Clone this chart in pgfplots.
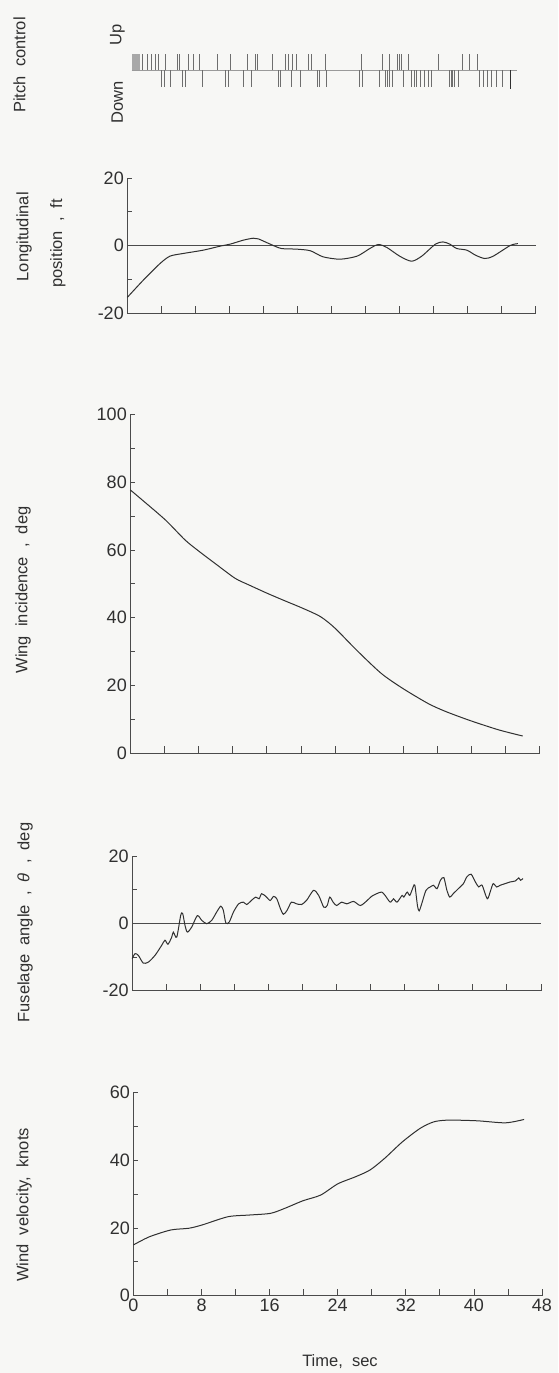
\documentclass[border=0pt]{standalone}
\usepackage{pgfplots}
\pgfplotsset{compat=1.18}
\usepackage{fontspec}
\setmainfont{Liberation Sans}[WordSpace=2]
\definecolor{bg}{RGB}{247,247,245}
\definecolor{ink}{RGB}{48,48,48}
\definecolor{axisc}{RGB}{75,75,75}
\definecolor{spike}{RGB}{110,110,110}

\pgfplotsset{
  /pgf/number format/assume math mode=true,
  trace/.style={
    scale only axis,
    axis lines=left,
    axis line style={-, axisc, line width=0.8pt},
    xmin=0, xmax=48,
    tick align=inside,
    tick style={axisc, line width=0.8pt},
    xtick={0,8,...,48}, minor xtick={4,12,...,44},
    x tick style={/pgfplots/major tick length=7pt, /pgfplots/minor tick length=7pt},
    y tick style={/pgfplots/major tick length=4.5pt, /pgfplots/minor tick length=4.5pt},
    tick label style={font=\fontsize{18}{20}\selectfont, text=ink},
    clip=false,
  },
  curve/.style={ink, line width=1pt, smooth, tension=0.45, no marks},
  zeroline/.style={axisc, line width=0.7pt, no marks},
}

\begin{document}
\begin{tikzpicture}
\fill[bg] (0pt,-1373pt) rectangle (558pt,0pt);
\useasboundingbox (0pt,-1373pt) rectangle (558pt,0pt);

% ---------- Panel 1: pitch control ----------
\begin{axis}[scale only axis, axis lines=none, xmin=0, xmax=48, ymin=-1, ymax=1,
  width=408.5pt, height=32.5pt, at={(131.7pt,-86.5pt)}, anchor=south west, clip=false]
\addplot[spike!70, line width=0.6pt, no marks] coordinates {(0,0) (45.3,0)};
\addplot[ycomb, spike!60, line width=0.9pt] coordinates {
(0.05,1) (0.18,1) (0.31,1) (0.44,1) (0.57,1) (0.7,1) (0.83,1) (0.96,1)};
\addplot[ycomb, spike, line width=0.65pt] coordinates {
(1.3,1) (1.8,1) (2.3,1) (2.8,1) (3.1,1) (3.9,1) (5.35,1) (5.65,1) (6.7,1) (7.2,1)
(8.0,1) (10.1,1) (11.6,1) (13.55,1) (14.55,1) (14.8,1) (16.5,1) (18.0,1) (18.4,1)
(18.85,1) (19.35,1) (20.7,1) (21.1,1) (22.8,1) (27.0,1) (29.45,1) (30.3,1) (31.2,1)
(31.4,1) (31.65,1) (32.5,1) (36.0,1) (38.9,1) (39.7,1) (40.6,1)};
\addplot[ycomb, spike, line width=0.65pt] coordinates {
(3.45,-1) (3.8,-1) (4.5,-1) (6.0,-1) (6.3,-1) (8.35,-1) (10.95,-1) (11.4,-1)
(13.1,-1) (14.05,-1) (17.2,-1) (17.45,-1) (18.8,-1) (19.8,-1) (21.85,-1) (22.1,-1)
(22.9,-1) (26.7,-1) (27.1,-1) (29.1,-1) (29.75,-1) (30.0,-1) (30.25,-1) (30.6,-1)
(31.95,-1) (32.9,-1) (33.2,-1) (33.5,-1) (33.9,-1) (34.35,-1) (34.8,-1) (35.25,-1)
(37.3,-1) (37.5,-1) (37.7,-1) (37.9,-1) (38.4,-1) (40.8,-1) (41.35,-1) (41.8,-1)
(42.3,-1) (42.9,-1) (43.5,-1)};
\addplot[ycomb, ink, line width=1.3pt] coordinates {(44.5,-1.15)};
\end{axis}

% ---------- Panel 2: longitudinal position ----------
\begin{axis}[trace, width=408.5pt, height=135.3pt, at={(127.3pt,-313.3pt)}, anchor=south west,
  ymin=-20, ymax=20, ytick={-20,0,20}, minor ytick={-10,10}, xticklabels={}]
\addplot[zeroline] coordinates {(0,0) (48,0)};
\addplot[curve] coordinates {
(0,-15.3) (1.88,-10.2) (3.84,-5.3) (5.02,-3.1) (6.6,-2.3) (8.93,-1.33) (10.9,-0.15)
(12.07,0.44) (13.63,1.62) (14.8,2.2) (15.4,2.0) (16.8,0.44) (18.1,-0.84) (19.9,-1.03)
(21.5,-1.5) (23.0,-3.3) (25.0,-4.0) (27.0,-3.1) (28.5,-0.84) (29.5,0.34) (30.5,-0.54)
(32.0,-3.1) (33.4,-4.6) (34.6,-3.1) (36.2,0.44) (37.1,1.1) (37.9,0.44) (38.7,-0.84)
(39.9,-1.33) (40.9,-2.8) (42.0,-3.8) (43.0,-3.1) (45.0,0.05) (45.9,0.6)};
\end{axis}

% ---------- Panel 3: wing incidence ----------
\begin{axis}[trace, width=409.5pt, height=339pt, at={(130.3pt,-753.3pt)}, anchor=south west,
  ymin=0, ymax=100, ytick={0,20,...,100}, minor ytick={10,30,...,90}, xticklabels={}]
\addplot[curve] coordinates {
(0,77.7) (1.41,74.7) (4.13,68.8) (6.43,62.9) (8.1,59.5) (10.2,55.5) (12.3,51.6)
(13.96,49.6) (16.05,47.2) (18.1,45.0) (20.2,42.8) (22.3,40.3) (24.0,36.9) (26.5,30.5)
(29.4,23.6) (31.9,19.2) (34.9,14.7) (37.0,12.3) (39.9,9.6) (43.2,6.9) (46.0,5.1)};
\end{axis}

% ---------- Panel 4: fuselage angle ----------
\begin{axis}[trace, width=408.7pt, height=134.7pt, at={(132.2pt,-990.7pt)}, anchor=south west,
  ymin=-20, ymax=20, ytick={-20,0,20}, minor ytick={-10,10}, xticklabels={}]
\addplot[zeroline] coordinates {(0,0) (48,0)};
\addplot[curve] coordinates {
(0,-10.5) (0.33,-9.0) (0.72,-9.5) (1.3,-11.8) (1.9,-11.5) (2.68,-9.5) (3.47,-6.5)
(3.85,-5.0) (4.2,-6.2) (4.64,-4.1) (4.83,-2.6) (5.23,-4.1) (5.7,2.4) (5.93,2.9)
(6.2,-0.6) (6.48,-2.6) (6.99,-1.1) (7.65,2.3) (8.17,0.9) (8.75,-0.1) (9.34,0.9)
(9.93,3.4) (10.4,5.1) (10.7,3.9) (11.0,0.1) (11.4,0.4) (11.9,3.4) (12.5,5.8)
(13.06,6.3) (13.45,5.6) (14.0,6.8) (14.5,7.8) (14.9,7.3) (15.2,8.8) (15.7,8.0)
(16.2,6.8) (16.6,8.0) (16.98,7.3) (17.4,4.4) (17.76,2.7) (18.2,3.9) (18.7,6.3)
(19.3,5.8) (19.9,5.6) (20.5,6.9) (21.3,9.8) (21.9,8.3) (22.5,4.8) (22.9,5.3)
(23.2,7.8) (23.6,6.3) (24.0,5.3) (24.6,6.3) (25.2,5.8) (26.0,6.5) (26.8,5.3)
(27.6,6.8) (28.1,8.0) (28.7,8.8) (29.3,9.3) (29.7,8.3) (30.3,6.3) (30.7,7.3)
(31.1,6.3) (31.7,8.3) (31.9,7.8) (32.3,9.3) (32.6,8.3) (33.0,10.8) (33.2,11.3)
(33.5,5.3) (33.7,3.7) (34.0,5.8) (34.5,9.8) (35.0,10.8) (35.4,11.3) (35.8,10.3)
(36.2,12.8) (36.6,13.6) (36.96,9.8) (37.3,7.8) (37.7,8.8) (38.3,10.3) (38.9,11.8)
(39.3,13.8) (39.8,14.6) (40.3,12.3) (40.7,10.8) (41.1,11.3) (41.7,7.3) (42.1,9.8)
(42.4,11.8) (42.8,10.8) (43.2,11.3) (43.8,11.8) (44.4,12.3) (45.0,12.6) (45.4,13.5)
(45.6,12.8) (45.9,13.3)};
\end{axis}

% ---------- Panel 5: wind velocity ----------
\begin{axis}[trace, width=408.5pt, height=203.4pt, at={(133.5pt,-1295.7pt)}, anchor=south west,
  ymin=0, ymax=60, ytick={0,20,40,60}, minor ytick={10,30,50}]
\addplot[curve] coordinates {
(0,15.0) (1.88,17.4) (4.4,19.4) (6.5,19.9) (8.1,20.9) (11.1,23.3) (13.6,23.8)
(16.1,24.3) (17.8,25.8) (19.9,28.0) (22.0,29.7) (24.0,33.0) (26.1,35.1) (27.8,37.1)
(29.5,40.5) (31.6,45.4) (33.7,49.4) (35.3,51.3) (37.0,51.8) (40.4,51.6) (43.7,51.0)
(45.9,52.0)};
\end{axis}

% ---------- labels ----------
\begin{scope}[every node/.style={text=ink, font=\fontsize{16.5}{18}\selectfont}]
\node[rotate=90] at (19.6pt,-65pt) {Pitch control};
\node[rotate=90] at (117.4pt,-35pt) {Up};
\node[rotate=90] at (117.4pt,-102.5pt) {Down};
\node[rotate=90] at (24pt,-236.7pt) {Longitudinal};
\node[rotate=90] at (57.8pt,-243.3pt) {position , ft};
\node[rotate=90] at (23pt,-590pt) {Wing incidence , deg};
\node[rotate=90] at (25pt,-922.5pt) {Fuselage angle , \textit{θ} , deg};
\node[rotate=90] at (24pt,-1205pt) {Wind velocity, knots};
\node at (340pt,-1362pt) {Time, sec};
\end{scope}
\end{tikzpicture}
\end{document}
